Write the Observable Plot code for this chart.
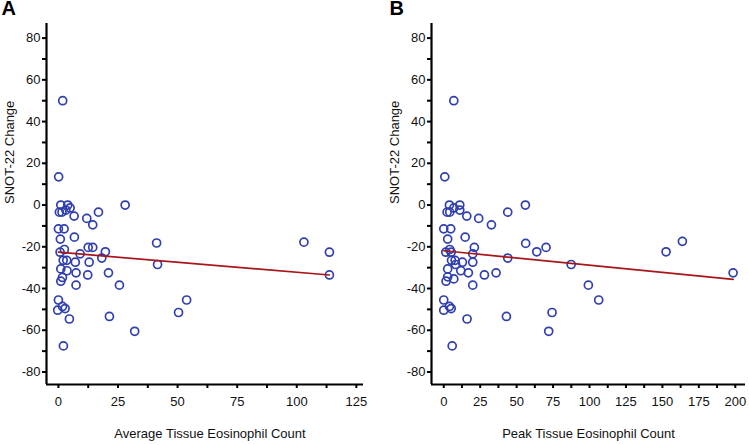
<!DOCTYPE html>
<html>
<head>
<meta charset="utf-8">
<script src="https://cdn.jsdelivr.net/npm/d3@7"></script>
<script src="https://cdn.jsdelivr.net/npm/@observablehq/plot@0.6"></script>
<style>
  body { margin: 0; background: #fff; }
  #wrap { position: relative; width: 749px; height: 445px; font-family: "Liberation Sans", Arial, sans-serif; }
</style>
</head>
<body>
<div id="wrap"></div>
<script>
// Panel A: average tissue eosinophil count vs SNOT-22 change
const avgCount = [1.8, 0.1, 1, 3.9, 28, 0.4, 1.5, 3.1, 4.9, 6.6, 11.9, 16.8, 14.4, 0, 2.4, 6.7, 0.8, 2.5, 0.7, 9.1,
  12.5, 14.4, 19.7, 18.2, 41.2, 41.6, 2, 3.5, 7.1, 12.9, 1, 3.6, 7.4, 12.3, 21, 1.7, 1, 7.4, 25.6, 0,
  53.8, -0.3, 1.7, 2.8, 50.4, 4.6, 21.4, 32, 2.1, 103, 113.7, 113.7];
const snotA = [50, 13.5, 0, 0, 0, -3.4, -3.4, -2.4, -1.4, -5.3, -6.4, -3.4, -9.5, -11.4, -11.4, -15.4, -16.3, -21.3, -22.6, -23.4,
  -20.3, -20.3, -22.4, -25.4, -18.2, -28.5, -26.5, -26.5, -27.4, -27.4, -30.6, -31.5, -32.5, -33.5, -32.5, -34.7, -36.5, -38.4, -38.4, -45.5,
  -45.5, -50.4, -48.6, -49.6, -51.5, -54.6, -53.4, -60.5, -67.5, -17.8, -22.6, -33.5];

// Panel B: peak tissue eosinophil count vs SNOT-22 change
const peakCount = [6.9, 0.7, 3.9, 11, 56, 2.3, 4.1, 6.9, 11, 15.8, 24, 43.9, 32.7, 0, 4.8, 14.7, 2.7, 4.1, 1.4, 5.1,
  19.9, 21, 56.2, 63.8, 70.2, 43.9, 87.4, 5.3, 7.8, 12.8, 19.9, 2.7, 8.2, 11.7, 16.9, 27.9, 35.9, 2.7, 6.9, 1.6,
  19.9, 0, 0, 3.9, 5.1, 16, 43, 74.3, 72, 5.8, 99.2, 106.3, 152.5, 163.7, 198.5];
const snotB = [50, 13.5, 0, 0, 0, -3.4, -3.4, -1.4, -2.4, -5.3, -6.4, -3.4, -9.5, -11.4, -11.4, -15.4, -16.3, -21.3, -22.6, -22.6,
  -23.4, -20.3, -18.4, -22.4, -20.3, -25.4, -28.5, -26.5, -26.5, -27.4, -27.4, -30.6, -28.5, -31.5, -32.5, -33.5, -32.5, -34.4, -35.4, -36.5,
  -38.4, -45.5, -50.4, -48.6, -49.6, -54.6, -53.4, -51.5, -60.5, -67.5, -38.4, -45.5, -22.4, -17.4, -32.5];

// Fitted regression lines
const fitA = { intercept: -22.6, slope: -0.096 };
const fitB = { intercept: -21.9, slope: -0.069 };

// Tick values
const yTicks = d3.range(-80, 81, 10);
const xTicksA = d3.range(0, 126, 12.5);
const xTicksB = d3.range(0, 201, 12.5);

const yLabel = "SNOT-22 Change";
const xLabelA = "Average Tissue Eosinophil Count";
const xLabelB = "Peak Tissue Eosinophil Count";
const panelLetters = ["A", "B"];

const FONT = '"Liberation Sans", Arial, sans-serif';
const BLUE = "#2f3fb0";
const RED = "#a8161b";
const yDomain = [-86, 87];

function panel({xs, ys, fit, xDomain, xTicks, xLabel, width, marginRight, titleDx, letter, letterDx}) {
  const pts = xs.map((x, i) => ({x, y: ys[i]}));
  const [x0, x1] = d3.extent(xs);
  const fitLine = [Math.max(0, x0), x1].map(x => ({x, y: fit.intercept + fit.slope * x}));
  return Plot.plot({
    width, height: 445,
    marginLeft: 46, marginRight, marginTop: 23, marginBottom: 61,
    style: {fontFamily: FONT, fontSize: "13px"},
    x: {domain: xDomain},
    y: {domain: yDomain},
    marks: [
      Plot.dot(pts, {x: "x", y: "y", r: 4, stroke: BLUE, strokeWidth: 1.7, fill: "none"}),
      Plot.line(fitLine, {x: "x", y: "y", stroke: RED, strokeWidth: 1.7}),
      Plot.axisY({ticks: yTicks, tickSize: 4, tickPadding: 2, fontSize: 13, stroke: "#000", fill: "#111", strokeWidth: 2,
        tickFormat: d => d % 20 === 0 ? String(d) : "", label: null}),
      Plot.axisX({ticks: xTicks, tickSize: 4, tickPadding: 8, fontSize: 13, stroke: "#000", fill: "#111", strokeWidth: 2,
        tickFormat: d => d % 25 === 0 ? String(d) : "", label: null}),
      Plot.ruleX([xDomain[0]], {stroke: "#000", strokeWidth: 2.2}),
      Plot.ruleY([yDomain[0]], {stroke: "#000", strokeWidth: 2.2}),
      Plot.text([yLabel], {frameAnchor: "left", rotate: -90, dx: -37, fontSize: 13, fill: "#111"}),
      Plot.text([xLabel], {frameAnchor: "bottom", dy: 53, dx: titleDx, fontSize: 13, fill: "#111"}),
      Plot.text([letter], {frameAnchor: "top-left", dx: letterDx, dy: -23, lineAnchor: "top",
        textAnchor: "start", fontSize: 20, fontWeight: "bold", fill: "#000"})
    ]
  });
}

const wrap = document.getElementById("wrap");
function place(svg, left) {
  svg.style.position = "absolute"; svg.style.top = "0px"; svg.style.left = left + "px";
  wrap.appendChild(svg);
}
place(panel({xs: avgCount, ys: snotA, fit: fitA, xDomain: [-5, 128], xTicks: xTicksA, xLabel: xLabelA,
  width: 385, marginRight: 22, titleDx: 5, letter: panelLetters[0], letterDx: -45}), 0);
place(panel({xs: peakCount, ys: snotB, fit: fitB, xDomain: [-8.4, 207], xTicks: xTicksB, xLabel: xLabelB,
  width: 364, marginRight: 4, titleDx: 0, letter: panelLetters[1], letterDx: -42}), 385);
</script>
</body>
</html>
